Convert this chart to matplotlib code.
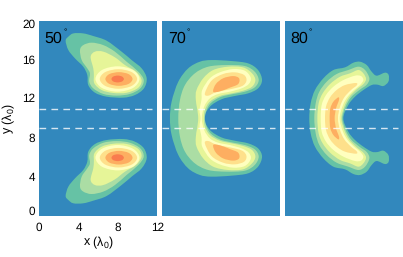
import matplotlib
matplotlib.use("Agg")
import matplotlib.pyplot as plt
from matplotlib.path import Path
from matplotlib.patches import PathPatch
from matplotlib.transforms import ScaledTranslation

plt.rcParams['font.family'] = ['Liberation Sans', 'DejaVu Sans']
plt.rcParams['mathtext.fontset'] = 'custom'
plt.rcParams['mathtext.rm'] = 'Liberation Sans'
plt.rcParams['mathtext.it'] = 'Liberation Sans'
plt.rcParams['mathtext.default'] = 'regular'
plt.rcParams['text.hinting'] = 'none'

background = '#3288bd'
level_colors = ['#66c2a5', '#abdda4', '#e6f598', '#ffffbf', '#fee08b', '#fdae61', '#f97c4e']
panel_labels = ['50', '70', '80']
x_ticks = [0, 4, 8, 12]
y_ticks = [0, 4, 8, 12, 16, 20]
guide_levels = [9, 11]
guide_end = 11.46

# Panel 50: closed contours of the upper lobe, lower lobe is its reflection about y = 10
p50_l1 = [(2.68,17.95),(2.95,18.36),(3.46,18.7),(4.47,18.7),(5.49,18.43),(6.85,17.95),(8.37,16.83),(9.39,15.97),(10.41,15.12),(10.92,14.1),(10.64,13.07),(9.73,12.39),(8.54,12.12),(6.85,12.22),(5.66,12.63),(4.98,13.41),(4.88,14.44),(4.47,15.29),(3.63,16.14),(2.95,17.0)]
p50_l2 = [(4.14,17.0),(4.47,17.5),(5.32,17.75),(6.51,17.5),(7.69,16.83),(8.88,15.8),(10.07,14.78),(10.62,13.92),(10.27,13.07),(9.22,12.5),(7.86,12.33),(6.51,12.5),(5.49,13.07),(5.08,13.75),(5.15,14.6),(4.88,15.12),(4.31,15.97)]
p50_l3 = [(5.22,16.31),(5.66,16.83),(6.51,16.83),(7.69,16.25),(8.71,15.46),(9.83,14.78),(10.4,13.92),(10.05,13.12),(8.88,12.62),(7.53,12.6),(6.34,12.9),(5.6,13.58),(5.55,14.44),(5.49,15.12)]
p50_l4 = [(5.71,14.03),(6.37,14.95),(7.95,15.33),(9.53,14.95),(10.19,14.03),(9.53,13.11),(7.95,12.73),(6.37,13.11)]
p50_l5 = [(6.15,14.03),(6.71,14.74),(8.05,15.03),(9.39,14.74),(9.95,14.03),(9.39,13.32),(8.05,13.03),(6.71,13.32)]
p50_l6 = [(6.72,14.03),(7.12,14.53),(8.1,14.73),(9.08,14.53),(9.48,14.03),(9.08,13.53),(8.1,13.33),(7.12,13.53)]
p50_l7 = [(7.34,14.03),(7.52,14.28),(7.97,14.38),(8.42,14.28),(8.6,14.03),(8.42,13.78),(7.97,13.68),(7.52,13.78)]

# Panels 70 and 80: upper half of each contour from y = 10 upward and back to y = 10
p70_l1 = [(.78,10),(.95,11.71),(1.63,13.75),(2.64,15.12),(3.83,15.8),(5.02,15.97),(7.05,15.87),(8.75,15.63),(9.76,14.95),(10.17,13.92),(9.76,13.07),(8.75,12.56),(7.39,12.29),(6.03,11.95),(4.85,11.19),(4.27,10)]
p70_l2 = [(1.63,10),(1.8,11.88),(2.31,13.41),(3.32,14.61),(4.68,15.29),(6.54,15.46),(8.41,15.36),(9.42,14.78),(9.83,13.92),(9.42,13.17),(8.41,12.73),(7.22,12.49),(5.86,12.15),(4.78,11.37),(4.34,10)]
p70_l3 = [(3.66,10),(3.42,11.88),(3.49,12.9),(4.17,14.1),(5.19,14.95),(6.71,15.29),(8.24,15.22),(9.15,14.61),(9.49,13.92),(9.15,13.24),(8.24,12.83),(7.05,12.56),(5.86,12.29),(4.85,11.71),(4.34,10.85),(4.24,10)]
p70_l4 = [(3.9,10),(3.8,10.85),(4.0,11.95),(4.07,12.9),(4.85,14.1),(5.86,14.71),(7.22,15.05),(8.41,14.88),(9.02,14.16),(8.81,13.51),(8.07,13.07),(6.88,12.73),(5.69,12.49),(4.85,12.05),(4.27,11.2),(4.03,10)]
p70_l5 = [(4.34,12.56),(5.02,13.86),(6.2,14.54),(7.39,14.71),(8.34,14.44),(8.58,13.86),(8.14,13.31),(6.88,12.97),(5.53,12.7),(4.68,12.32)]
p70_l6 = [(5.19,12.73),(5.46,13.51),(6.2,14.1),(7.22,14.33),(7.83,14.1),(7.73,13.51),(6.88,13.14),(5.86,12.76)]

p80_l1 = [(2.47,10),(2.61,11.54),(3.05,12.9),(3.9,14.1),(4.92,14.95),(6.1,15.22),(6.95,15.7),(7.63,15.8),(8.31,15.46),(8.81,14.78),(9.32,14.37),(10.17,14.68),(10.54,14.44),(10.51,13.75),(10.0,13.31),(9.39,13.45),(8.81,13.41),(7.97,12.9),(7.12,12.22),(6.44,11.37),(5.93,10)]
p80_l2 = [(2.98,10),(3.12,11.54),(3.49,12.73),(4.24,13.75),(5.25,14.54),(6.44,14.95),(7.46,15.29),(8.14,14.95),(8.58,14.1),(8.31,13.45),(7.56,12.9),(6.71,12.15),(6.17,11.2),(5.83,10)]
p80_l3 = [(3.29,10),(3.42,11.54),(3.83,12.56),(4.58,13.51),(5.59,14.26),(6.61,14.61),(7.46,14.95),(7.97,14.61),(8.24,14.03),(7.97,13.51),(7.29,12.97),(6.51,12.15),(6.03,11.2),(5.73,10)]
p80_l4 = [(3.63,10),(3.73,11.37),(4.17,12.39),(4.92,13.24),(5.93,13.92),(7.12,14.37),(7.73,14.33),(7.97,13.92),(7.63,13.41),(7.02,12.9),(6.37,12.22),(5.9,11.37),(5.56,10)]
p80_l5 = [(4.07,10),(4.17,11.19),(4.58,12.15),(5.25,12.9),(6.1,13.41),(7.22,13.62),(7.29,13.38),(6.71,12.9),(6.03,12.15),(5.59,11.19),(5.39,10)]
p80_l6 = [(4.54,10),(4.61,11.02),(4.92,11.71),(5.42,12.15),(5.49,11.88),(5.19,11.02),(5.05,10)]


def reflect(points):
    return [(x, 20 - y) for x, y in points]


def whole(half):
    """Join an upper half with its reflection into one closed contour."""
    return half + reflect(half)[::-1][1:-1]


def smooth_patch(points, color):
    n = len(points)
    verts = [points[0]]
    codes = [Path.MOVETO]
    for i in range(n):
        p0, p1, p2, p3 = points[i - 1], points[i], points[(i + 1) % n], points[(i + 2) % n]
        c1 = (p1[0] + (p2[0] - p0[0]) / 6, p1[1] + (p2[1] - p0[1]) / 6)
        c2 = (p2[0] - (p3[0] - p1[0]) / 6, p2[1] - (p3[1] - p1[1]) / 6)
        verts += [c1, c2, p2]
        codes += [Path.CURVE4] * 3
    return PathPatch(Path(verts, codes), facecolor=color, edgecolor='none', lw=0)


p50_levels = [p50_l1, p50_l2, p50_l3, p50_l4, p50_l5, p50_l6, p50_l7]
p70_levels = [p70_l1, p70_l2, p70_l3, p70_l4]
p70_lobes = [p70_l5, p70_l6]
p80_levels = [p80_l1, p80_l2, p80_l3, p80_l4, p80_l5, p80_l6]

fig = plt.figure(figsize=(4.03, 2.57), dpi=100)
W, H = 403, 257
boxes = [(39.3, 157.3), (162.3, 280.0), (285.0, 403.0)]
top, bottom = 20.7, 216.0
axes = [fig.add_axes([l / W, 1 - bottom / H, (r - l) / W, (bottom - top) / H]) for l, r in boxes]

for ax in axes:
    ax.set_facecolor(background)
    ax.set_xlim(0, 12)
    ax.set_ylim(0, 20)
    for s in ax.spines.values():
        s.set_visible(False)
    ax.set_xticks([])
    ax.set_yticks([])

for i, pts in enumerate(p50_levels):
    axes[0].add_patch(smooth_patch(pts, level_colors[i]))
    axes[0].add_patch(smooth_patch(reflect(pts), level_colors[i]))
for i, pts in enumerate(p70_levels):
    axes[1].add_patch(smooth_patch(whole(pts), level_colors[i]))
for j, pts in enumerate(p70_lobes):
    axes[1].add_patch(smooth_patch(pts, level_colors[4 + j]))
    axes[1].add_patch(smooth_patch(reflect(pts), level_colors[4 + j]))
for i, pts in enumerate(p80_levels):
    axes[2].add_patch(smooth_patch(whole(pts), level_colors[i]))

for ax, label in zip(axes, panel_labels):
    for y in guide_levels:
        ax.plot([0, guide_end], [y, y], color='white', alpha=0.8, lw=1.0, dashes=(4.8, 3.8), zorder=5)
    ax.text(0.046, 0.946, label, transform=ax.transAxes, fontsize=11.5, va='top', ha='left')
    ax.annotate('°', xy=(0.046, 0.946), xycoords='axes fraction', xytext=(13.2, 2), textcoords='offset points',
                fontsize=6, va='top', ha='left')

main = axes[0]
main.set_xticks(x_ticks)
main.set_yticks(y_ticks)
main.tick_params(axis='x', length=0, labelsize=8.5, pad=4.5)
main.tick_params(axis='y', length=0, labelsize=8.5, pad=3.0)
nudges = [3.84, 0.5, 0.5, 0.5, 0.5, -1.7]
for lab, dy in zip(main.get_yticklabels(), nudges):
    lab.set_transform(lab.get_transform() + ScaledTranslation(0, dy / 72, fig.dpi_scale_trans))
main.set_xlabel(r'x ($\lambda_0$)', fontsize=9, labelpad=0.7)
main.set_ylabel(r'y ($\lambda_0$)', fontsize=9, labelpad=3.5)

fig.savefig('out.png', dpi=100, facecolor='white')
